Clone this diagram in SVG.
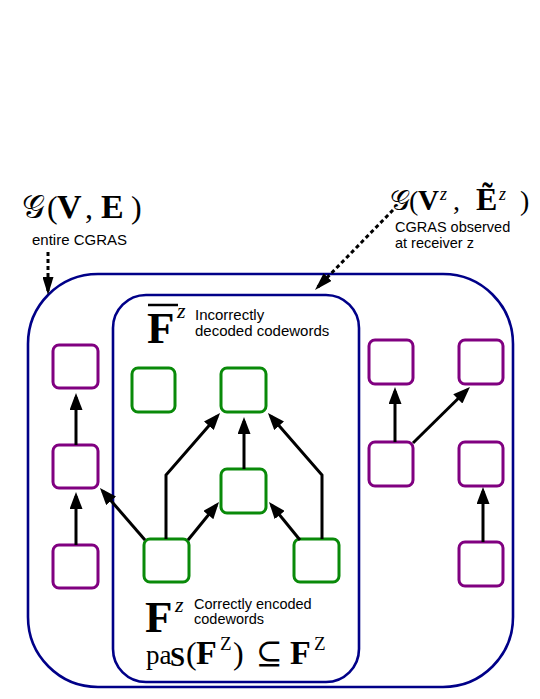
<svg xmlns="http://www.w3.org/2000/svg" width="540" height="699" viewBox="0 0 540 699">
<defs>
<style>
.frame{fill:none;stroke:#000088;stroke-width:2.6}
.pb{fill:#fff;stroke:#800080;stroke-width:3}
.gb{fill:#fff;stroke:#098a09;stroke-width:3}
.ar{fill:none;stroke:#000;stroke-width:3;marker-end:url(#ah)}
.da{fill:none;stroke:#000;stroke-width:3;stroke-dasharray:4 3;marker-end:url(#dh)}
.serif{font-family:"Liberation Serif","DejaVu Serif",serif;fill:#000}
.sans{font-family:"Liberation Sans",Arial,sans-serif;fill:#000}
</style>
<marker id="ah" markerUnits="userSpaceOnUse" markerWidth="17" markerHeight="13" refX="13" refY="6.5" orient="auto">
<path d="M0,0 L17,6.5 L0,13 z" fill="#000"/>
</marker>
<marker id="dh" markerUnits="userSpaceOnUse" markerWidth="18" markerHeight="11" refX="14" refY="5.5" orient="auto">
<path d="M0,0 L18,5.5 L0,11 z" fill="#000"/>
</marker>
</defs>
<rect width="540" height="699" fill="#fff"/>

<g id="outer"><rect class="frame" x="28" y="274" width="485" height="413" rx="70" ry="70"/></g>
<g id="inner"><rect class="frame" x="113" y="295" width="246" height="387" rx="33" ry="33"/></g>

<g id="label-G">
<text class="serif" y="218" font-size="32"><tspan x="22">𝒢</tspan><tspan x="47">(</tspan><tspan x="57" font-weight="bold" font-size="34">V</tspan><tspan x="85">,</tspan><tspan x="101" font-weight="bold" font-size="34">E</tspan><tspan x="131">)</tspan></text>
<text class="sans" x="32" y="245" font-size="15">entire CGRAS</text>
</g>
<g id="label-Gz">
<text class="serif" y="210" font-size="28"><tspan x="390">𝒢</tspan><tspan x="409">(</tspan><tspan x="418" font-weight="bold" font-size="29">V</tspan><tspan x="440" font-size="18" font-style="italic" dy="-10">z</tspan><tspan x="453" dy="10">,</tspan><tspan x="476" font-weight="bold" font-size="32">Ẽ</tspan><tspan x="499" font-size="18" font-style="italic" dy="-10">z</tspan><tspan x="520" dy="10">)</tspan></text>
<text class="sans" x="395" y="232" font-size="14.5">CGRAS observed</text>
<text class="sans" x="395" y="248" font-size="14.5">at receiver z</text>
</g>
<g id="label-Fbar">
<line x1="148" y1="305" x2="178" y2="305" stroke="#000" stroke-width="2.5"/>
<text class="serif" x="147" y="343" font-size="45" font-weight="bold">F</text>
<text class="serif" x="177" y="318" font-size="22" font-style="italic">z</text>
<text class="sans" x="195" y="320" font-size="15">Incorrectly</text>
<text class="sans" x="195" y="336" font-size="15">decoded codewords</text>
</g>
<g id="label-F">
<text class="serif" x="145" y="632" font-size="45" font-weight="bold">F</text>
<text class="serif" x="175" y="612" font-size="22" font-style="italic">z</text>
<text class="sans" x="194" y="609" font-size="14.5">Correctly encoded</text>
<text class="sans" x="194" y="624" font-size="14.5">codewords</text>
</g>
<g id="label-pas">
<text class="serif" y="664" font-size="32"><tspan x="146" font-size="27">pa</tspan><tspan x="170" font-weight="bold" font-size="27" dy="2">S</tspan><tspan x="186" dy="-2">(</tspan><tspan x="196" font-weight="bold" font-size="34">F</tspan><tspan x="220" font-size="19" dy="-14">Z</tspan><tspan x="233" dy="14">)</tspan><tspan x="256">⊆</tspan><tspan x="290" font-weight="bold" font-size="34">F</tspan><tspan x="314" font-size="19" dy="-14">Z</tspan></text>
</g>

<g id="node-L1"><rect class="pb" x="53" y="345" width="45" height="43" rx="6"/></g>
<g id="node-L2"><rect class="pb" x="53" y="445" width="45" height="43" rx="6"/></g>
<g id="node-L3"><rect class="pb" x="53" y="545" width="45" height="43" rx="6"/></g>
<g id="node-RA"><rect class="pb" x="369" y="340" width="44" height="44" rx="6"/></g>
<g id="node-RB"><rect class="pb" x="459" y="340" width="44" height="44" rx="6"/></g>
<g id="node-RC"><rect class="pb" x="369" y="442" width="44" height="44" rx="6"/></g>
<g id="node-RD"><rect class="pb" x="459" y="442" width="44" height="44" rx="6"/></g>
<g id="node-RE"><rect class="pb" x="459" y="542" width="44" height="44" rx="6"/></g>
<g id="node-G1"><rect class="gb" x="132" y="368" width="43" height="44" rx="6"/></g>
<g id="node-G2"><rect class="gb" x="221" y="368" width="45" height="44" rx="6"/></g>
<g id="node-G3"><rect class="gb" x="221" y="469" width="45" height="44" rx="6"/></g>
<g id="node-G4"><rect class="gb" x="144" y="539" width="45" height="43" rx="6"/></g>
<g id="node-G5"><rect class="gb" x="294" y="539" width="45" height="43" rx="6"/></g>

<g id="connectors">
<path class="ar" d="M76,545 L76,496"/>
<path class="ar" d="M76,445 L76,397"/>
<path class="ar" d="M145,540 L102.6,491"/>
<path class="ar" d="M166,539 L166,475 L217.4,416"/>
<path class="ar" d="M244,469 L244,421"/>
<path class="ar" d="M188,540 L216.5,505"/>
<path class="ar" d="M300,540 L271.5,505"/>
<path class="ar" d="M322,539 L322,475 L270.6,416"/>
<path class="ar" d="M395,442 L395,391"/>
<path class="ar" d="M413,443 L467.1,389.8"/>
<path class="ar" d="M483,542 L483,491"/>
<path class="da" d="M48,252 L48,291"/>
<path class="da" d="M393,210 L317.8,287.1"/>
</g>
</svg>
